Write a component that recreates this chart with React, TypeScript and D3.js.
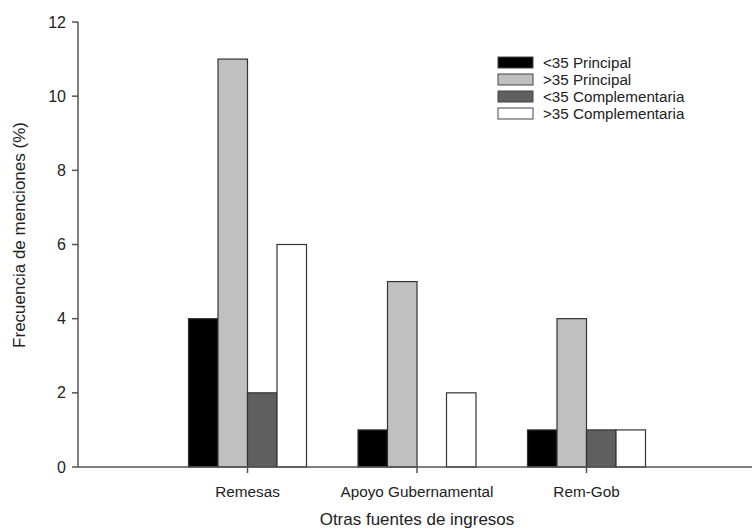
import React from "react";
import * as d3 from "d3";

const categories = ["Remesas", "Apoyo Gubernamental", "Rem-Gob"];
const seriesNames = ["<35 Principal", ">35 Principal", "<35 Complementaria", ">35 Complementaria"];
const seriesColors = ["#000000", "#c0c0c0", "#5f5f5f", "#ffffff"];
const menor35Principal = [4, 1, 1];
const mayor35Principal = [11, 5, 4];
const menor35Complementaria = [2, 0, 1];
const mayor35Complementaria = [6, 2, 1];
const yTicks = [0, 2, 4, 6, 8, 10, 12];

const seriesValues = [menor35Principal, mayor35Principal, menor35Complementaria, mayor35Complementaria];

export default function App() {
  const W = 752, H = 529;
  const x0 = 78, x1 = 756, yBottom = 467, yTop = 22;
  const y = d3.scaleLinear().domain([0, 12]).range([yBottom, yTop]);
  const x = d3.scaleLinear().domain([0, categories.length + 1]).range([x0, x1]);
  const barW = 29.5;
  const font = "'Liberation Sans', Arial, sans-serif";
  const axisColor = "#555";
  return (
    <svg width={W} height={H} style={{ position: "absolute", left: 0, top: 0, background: "#fff" }} fontFamily={font}>
      {/* bars */}
      {categories.map((c, i) => {
        const cx = x(i + 1);
        return seriesValues.map((vals, s) => {
          const v = vals[i];
          if (v <= 0) return null;
          const bx = cx - 2 * barW + s * barW;
          return (
            <rect key={c + s} x={bx} y={y(v)} width={barW} height={y(0) - y(v)}
              fill={seriesColors[s]} stroke="#333" strokeWidth={1.2} />
          );
        });
      })}
      {/* y axis */}
      <line x1={x0} x2={x0} y1={yTop} y2={yBottom} stroke={axisColor} strokeWidth={1.5} />
      {yTicks.map(t => (
        <g key={t}>
          <line x1={x0 - 6} x2={x0} y1={y(t)} y2={y(t)} stroke={axisColor} strokeWidth={1.5} />
          <text x={66} y={y(t)} dy="0.35em" textAnchor="end" fontSize={16} fill="#222">{t}</text>
        </g>
      ))}
      {/* x axis */}
      <line x1={x0} x2={x1} y1={yBottom} y2={yBottom} stroke={axisColor} strokeWidth={1.5} />
      {categories.map((c, i) => (
        <g key={c}>
          <line x1={x(i + 1)} x2={x(i + 1)} y1={yBottom} y2={yBottom + 6} stroke={axisColor} strokeWidth={1.5} />
          <text x={x(i + 1)} y={497} textAnchor="middle" fontSize={15.3} fill="#222">{c}</text>
        </g>
      ))}
      {/* axis titles */}
      <text x={417} y={525} textAnchor="middle" fontSize={17} fill="#222">Otras fuentes de ingresos</text>
      <text transform={`translate(25,235) rotate(-90)`} textAnchor="middle" fontSize={17} fill="#222">Frecuencia de menciones (%)</text>
      {/* legend */}
      {seriesNames.map((n, s) => (
        <g key={n} transform={`translate(498,${57 + s * 17})`}>
          <rect x={0} y={0} width={35} height={11} fill={seriesColors[s]} stroke="#444" strokeWidth={1} />
          <text x={45} y={5.5} dy="0.35em" fontSize={15.2} fill="#222">{n}</text>
        </g>
      ))}
    </svg>
  );
}
